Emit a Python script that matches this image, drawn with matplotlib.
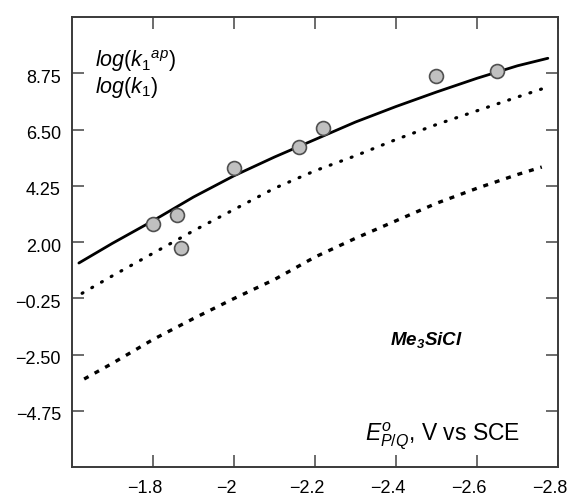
import matplotlib
matplotlib.use("Agg")
import matplotlib.pyplot as plt
from matplotlib.transforms import ScaledTranslation

plt.rcParams["font.family"] = ["Liberation Sans", "DejaVu Sans"]
plt.rcParams["mathtext.fontset"] = "custom"
plt.rcParams["mathtext.rm"] = "Liberation Sans"
plt.rcParams["mathtext.it"] = "Liberation Sans:italic"
plt.rcParams["mathtext.bf"] = "Liberation Sans:bold"
plt.rcParams["mathtext.bfit"] = "Liberation Sans:bold:italic"

# log(k1ap) model curve (solid)
solid_x = [-1.617, -1.70, -1.80, -1.90, -2.00, -2.10, -2.20, -2.30, -2.40, -2.50, -2.60, -2.70, -2.775]
solid_y = [1.16, 1.95, 2.85, 3.80, 4.65, 5.40, 6.10, 6.80, 7.42, 8.00, 8.55, 9.05, 9.35]

# log(k1) curve (fine dots)
dotted_x = [-1.625, -1.70, -1.80, -1.90, -2.00, -2.10, -2.20, -2.30, -2.40, -2.50, -2.60, -2.70, -2.765]
dotted_y = [-0.05, 0.65, 1.55, 2.45, 3.30, 4.15, 4.85, 5.45, 6.10, 6.70, 7.25, 7.80, 8.15]

# lower curve (short dashes)
dashed_x = [-1.63, -1.70, -1.80, -1.90, -2.00, -2.10, -2.20, -2.30, -2.40, -2.50, -2.60, -2.70, -2.76]
dashed_y = [-3.48, -2.85, -1.90, -1.06, -0.26, 0.50, 1.40, 2.15, 2.85, 3.55, 4.15, 4.70, 5.00]

# experimental points
pts_x = [-1.80, -1.86, -1.87, -2.00, -2.16, -2.22, -2.50, -2.65]
pts_y = [2.72, 3.08, 1.78, 4.98, 5.80, 6.58, 8.65, 8.85]

xticks = [-1.8, -2.0, -2.2, -2.4, -2.6, -2.8]
xlabels = ["\u22121.8", "\u22122", "\u22122.2", "\u22122.4", "\u22122.6", "\u22122.8"]
yticks = [-4.75, -2.50, -0.25, 2.00, 4.25, 6.50, 8.75]
ylabels = ["\u22124.75", "\u22122.50", "\u22120.25", "2.00", "4.25", "6.50", "8.75"]

fig = plt.figure(figsize=(5.70, 4.98), dpi=100)
ax = fig.add_axes([0.1263, 0.0622, 0.8526, 0.9036])

ax.plot(solid_x, solid_y, color="black", lw=2.0, solid_capstyle="round")
ax.plot(dotted_x, dotted_y, color="black", lw=2.3,
        linestyle=(0, (0.3, 3.2)), dash_capstyle="round")
ax.plot(dashed_x, dashed_y, color="black", lw=2.4,
        linestyle=(0, (1.5, 2.1)), dash_capstyle="butt")
ax.plot(pts_x, pts_y, linestyle="none", marker="o", markersize=10,
        markerfacecolor="#c0c0c0", markeredgecolor="#505050", markeredgewidth=1.2)

ax.set_xlim(-1.6, -2.8)
ax.set_ylim(-7, 11)
ax.set_xticks(xticks)
ax.set_xticklabels(xlabels)
ax.set_yticks(yticks)
ax.set_yticklabels(ylabels)
ax.tick_params(direction="in", top=True, right=True, length=8.5, width=1.1,
               color="#444444", labelsize=13, pad=8)
ax.tick_params(axis="x", pad=9)

# the numbers sit on the ticks, the minus signs hang to the left
for lab in ax.get_xticklabels():
    lab.set_transform(lab.get_transform() + ScaledTranslation(-0.08, 0, fig.dpi_scale_trans))
for lab in ax.get_yticklabels():
    lab.set_transform(lab.get_transform() + ScaledTranslation(0, -0.03, fig.dpi_scale_trans))

for sp in ax.spines.values():
    sp.set_color("#3a3a3a")
    sp.set_linewidth(1.4)

ax.text(0.047, 0.889, r"$\mathit{log(k_1{}^{ap})}$", transform=ax.transAxes,
        fontsize=15.5, ha="left", va="baseline")
ax.text(0.047, 0.831, r"$\mathit{log(k_1)}$", transform=ax.transAxes,
        fontsize=15.5, ha="left", va="baseline")
ax.text(0.654, 0.271, r"$\mathbfit{Me_3SiCl}$", transform=ax.transAxes,
        fontsize=13.5, ha="left", va="baseline")
ax.text(0.922, 0.06, r"$\mathit{E^o_{P/Q}}$, V vs SCE", transform=ax.transAxes,
        fontsize=16.5, ha="right", va="baseline")

fig.savefig("out.png", dpi=100)
